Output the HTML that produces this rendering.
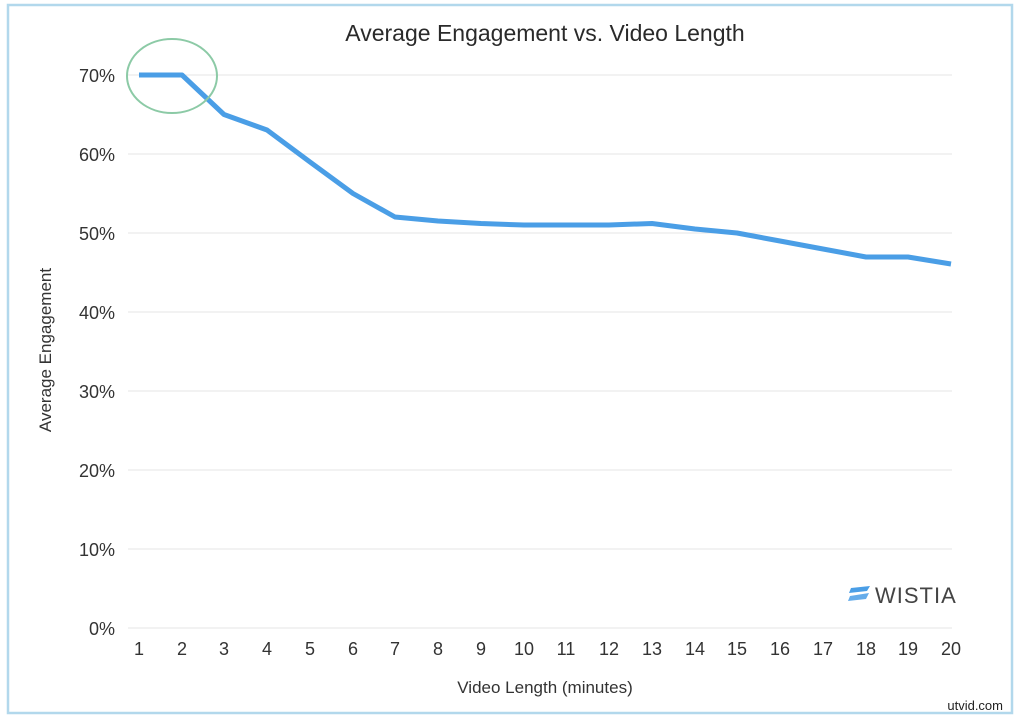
<!DOCTYPE html>
<html><head><meta charset="utf-8"><style>
html,body{margin:0;padding:0;background:#fff;}
svg{display:block;font-family:"Liberation Sans",Arial,sans-serif;}
</style></head><body>
<svg width="1024" height="717" viewBox="0 0 1024 717">
<rect x="0" y="0" width="1024" height="717" fill="#fff"/>
<rect x="8" y="5" width="1004" height="708" fill="none" stroke="#b2d8ec" stroke-width="2.5"/>
<text x="545" y="41" font-size="23" text-anchor="middle" fill="#2a2a2a">Average Engagement vs. Video Length</text>
<g stroke="#e6e6e6" stroke-width="1">
<line x1="128" y1="75" x2="952" y2="75"/>
<line x1="128" y1="154" x2="952" y2="154"/>
<line x1="128" y1="233" x2="952" y2="233"/>
<line x1="128" y1="312" x2="952" y2="312"/>
<line x1="128" y1="391" x2="952" y2="391"/>
<line x1="128" y1="470" x2="952" y2="470"/>
<line x1="128" y1="549" x2="952" y2="549"/>
<line x1="128" y1="628" x2="952" y2="628"/>
</g>
<g font-size="18" fill="#333" text-anchor="end">
<text x="115" y="82">70%</text>
<text x="115" y="161">60%</text>
<text x="115" y="240">50%</text>
<text x="115" y="319">40%</text>
<text x="115" y="398">30%</text>
<text x="115" y="477">20%</text>
<text x="115" y="556">10%</text>
<text x="115" y="635">0%</text>
</g>
<g font-size="18" fill="#333" text-anchor="middle">
<text x="139" y="655">1</text><text x="182" y="655">2</text><text x="224" y="655">3</text><text x="267" y="655">4</text><text x="310" y="655">5</text><text x="353" y="655">6</text><text x="395" y="655">7</text><text x="438" y="655">8</text><text x="481" y="655">9</text><text x="524" y="655">10</text><text x="566" y="655">11</text><text x="609" y="655">12</text><text x="652" y="655">13</text><text x="695" y="655">14</text><text x="737" y="655">15</text><text x="780" y="655">16</text><text x="823" y="655">17</text><text x="866" y="655">18</text><text x="908" y="655">19</text><text x="951" y="655">20</text>
</g>
<text x="545" y="693" font-size="17" fill="#333" text-anchor="middle">Video Length (minutes)</text>
<text transform="translate(51,350) rotate(-90)" font-size="17" fill="#333" text-anchor="middle">Average Engagement</text>
<polyline fill="none" stroke="#4a9ee6" stroke-width="5" stroke-linejoin="round" points="139,75 182,75 224,114.5 267,130 310,162 353,193.5 395,217 438,221 481,223.5 524,225 566,225 609,225 652,223.5 695,229 737,233 780,241 823,249 866,257 908,257 951,264"/>
<ellipse cx="172" cy="76" rx="45" ry="37" fill="none" stroke="#8ccaa6" stroke-width="2"/>
<g fill="#4a9ee6">
<path d="M851,588 L870,586 L867,591 L849,593 Z"/>
<path d="M850,596 L869,593 L866,599 L848,601 Z" opacity="0.85"/>
</g>
<text x="875" y="603" font-size="22" fill="#444" letter-spacing="1">WISTIA</text>
<text x="1003" y="710" font-size="13" fill="#222" text-anchor="end">utvid.com</text>
</svg>
</body></html>
